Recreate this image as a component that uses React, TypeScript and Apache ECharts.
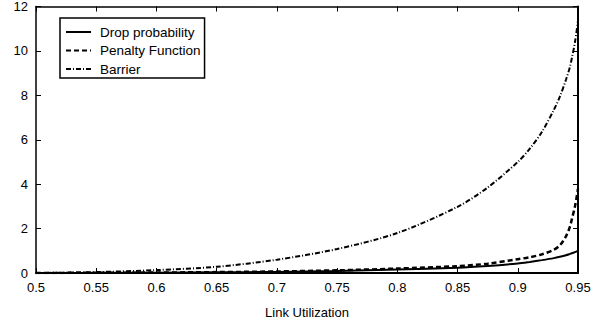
import React, { useEffect, useRef } from "react";
import * as echarts from "echarts";

const utilization = [0.5, 0.55, 0.6, 0.65, 0.7, 0.75, 0.8, 0.85, 0.875, 0.9, 0.91, 0.92, 0.93, 0.935, 0.94, 0.9434, 0.945, 0.9475, 0.95];
const dropProbability = [0.0, 0.005, 0.015, 0.03, 0.05, 0.09, 0.16, 0.24, 0.32, 0.43, 0.5, 0.58, 0.67, 0.73, 0.8, 0.86, 0.89, 0.94, 1.0];
const penaltyFunction = [0.0, 0.01, 0.02, 0.04, 0.07, 0.12, 0.2, 0.31, 0.42, 0.62, 0.71, 0.84, 1.05, 1.25, 1.65, 2.1, 2.45, 3.0, 3.8];
const barrier = [0.0, 0.04, 0.13, 0.28, 0.6, 1.08, 1.8, 2.98, 3.85, 5.0, 5.6, 6.35, 7.35, 7.95, 8.7, 9.3, 9.7, 10.4, 11.35];

const seriesNames = ["Drop probability", "Penalty Function", "Barrier"];
const xTicks = { min: 0.5, max: 0.95, interval: 0.05 };
const yTicks = { min: 0, max: 12, interval: 2 };

const FONT = "Liberation Sans, Arial, Helvetica, sans-serif";

export default function App() {
  const ref = useRef<HTMLDivElement>(null);
  useEffect(() => {
    if (!ref.current) return;
    const chart = echarts.init(ref.current, null, { renderer: "svg" });
    const pairs = (ys: number[]) => utilization.map((x, i) => [x, ys[i]]);
    const tickCommon = {
      axisTick: { show: true, inside: true, length: 5, lineStyle: { color: "#000", width: 1 } },
      splitLine: { show: false },
    };
    const lineSeries = (name: string, ys: number[], width: number, type: any) => ({
      name,
      type: "line",
      data: pairs(ys),
      showSymbol: false,
      symbol: "none",
      smooth: 0.3,
      lineStyle: { color: "#000", width, type },
      itemStyle: { color: "#000" },
    });
    chart.setOption({
      animation: false,
      backgroundColor: "#fff",
      textStyle: { fontFamily: FONT },
      grid: { left: 36, right: 25, top: 6, bottom: 51, containLabel: false },
      legend: {
        left: 60,
        top: 18,
        orient: "vertical",
        itemWidth: 25,
        itemHeight: 13,
        itemGap: 4.5,
        padding: [7, 4, 2, 5],
        borderColor: "#000",
        borderWidth: 1.5,
        backgroundColor: "#fff",
        borderRadius: 0,
        itemStyle: { opacity: 0 },
        textStyle: { fontFamily: FONT, fontSize: 13.5, lineHeight: 13, color: "#000", padding: [0, 0, 0, 4] },
        data: seriesNames,
      },
      xAxis: [
        {
          type: "value",
          position: "bottom",
          min: xTicks.min,
          max: xTicks.max,
          interval: xTicks.interval,
          name: "Link Utilization",
          nameLocation: "middle",
          nameGap: 33,
          nameTextStyle: { fontFamily: FONT, fontSize: 13, color: "#000" },
          axisLabel: { fontFamily: FONT, fontSize: 13, color: "#000", margin: 8 },
          ...tickCommon,
          axisLine: { show: true, onZero: false, lineStyle: { color: "#000", width: 2 } },
        },
        {
          type: "value",
          position: "top",
          min: xTicks.min,
          max: xTicks.max,
          interval: xTicks.interval,
          axisLabel: { show: false },
          ...tickCommon,
          axisLine: { show: true, onZero: false, lineStyle: { color: "#000", width: 1.5 } },
        },
      ],
      yAxis: [
        {
          type: "value",
          position: "left",
          min: yTicks.min,
          max: yTicks.max,
          interval: yTicks.interval,
          axisLabel: { fontFamily: FONT, fontSize: 13, color: "#000", margin: 8 },
          ...tickCommon,
          axisLine: { show: true, onZero: false, lineStyle: { color: "#000", width: 1.5 } },
        },
        {
          type: "value",
          position: "right",
          min: yTicks.min,
          max: yTicks.max,
          interval: yTicks.interval,
          axisLabel: { show: false },
          ...tickCommon,
          axisLine: { show: true, onZero: false, lineStyle: { color: "#000", width: 2 } },
        },
      ],
      series: [
        lineSeries(seriesNames[0], dropProbability, 2, "solid"),
        lineSeries(seriesNames[1], penaltyFunction, 2.5, [5, 3]),
        lineSeries(seriesNames[2], barrier, 2, [5, 2, 1, 2]),
      ],
    });
    return () => chart.dispose();
  }, []);
  return <div ref={ref} style={{ width: 603, height: 324, position: "absolute", left: 0, top: 0 }} />;
}
